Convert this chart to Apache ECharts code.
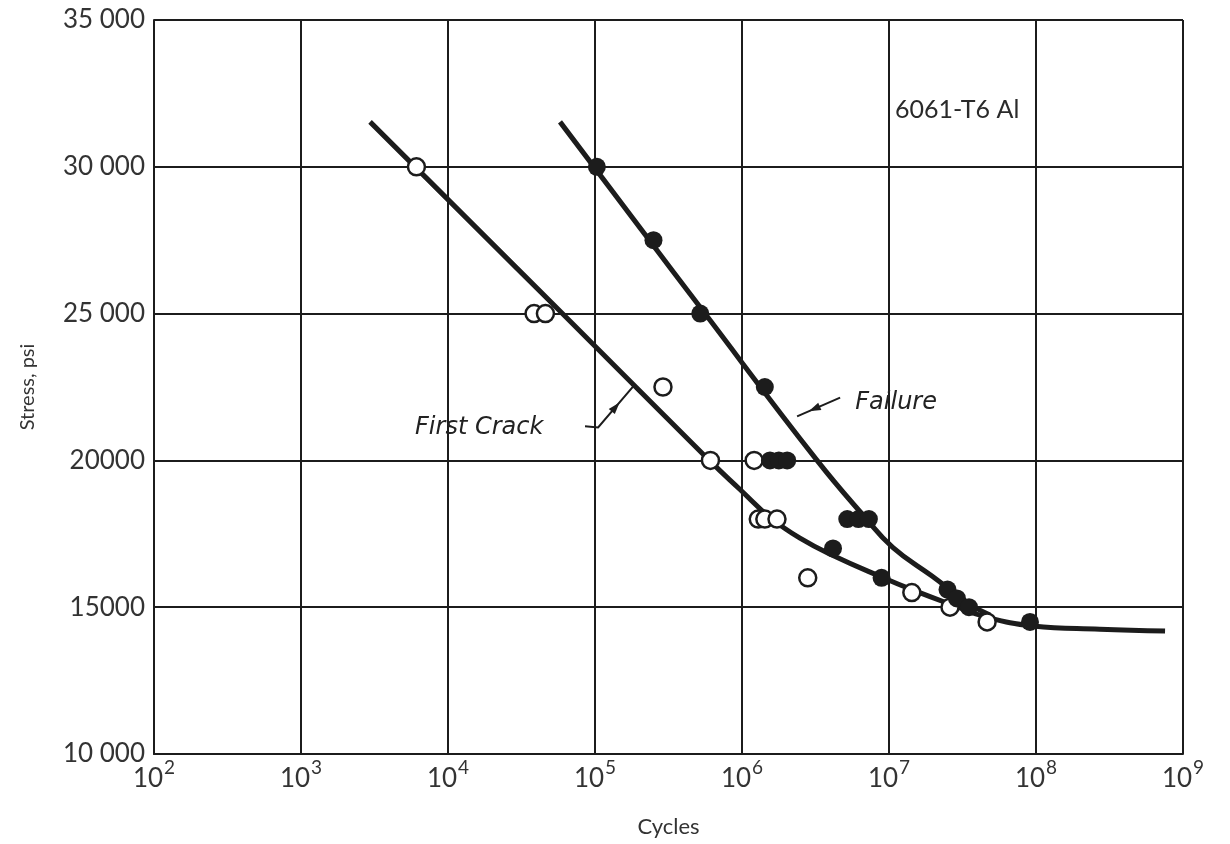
<!DOCTYPE html>
<html>
<head>
<meta charset="utf-8">
<script src="https://cdn.jsdelivr.net/npm/echarts@6/dist/echarts.min.js"></script>
<style>
  html, body { margin: 0; padding: 0; background: #fff; }
  #main { width: 1230px; height: 844px; }
</style>
</head>
<body>
<div id="main"></div>
<script>
// tick labels on the stress axis, as printed
const yTicks = [10000, 15000, 20000, 25000, 30000, 35000];
const yTickLabels = ["10 000", "15000", "20000", "25 000", "30 000", "35 000"];

// fitted curves [cycles, stress]
const firstCrackCurve = [
  [2.95e3, 31530], [6.0e4, 25000], [6.0e5, 20000], [9.7e5, 19010],
  [1.55e6, 18060], [2.48e6, 17350], [4.16e6, 16760], [8.96e6, 16020],
  [1.46e7, 15580], [2.72e7, 15070], [4.64e7, 14660], [9.55e7, 14360],
  [2.72e8, 14250], [7.55e8, 14190]
];
const failureCurve = [
  [5.78e4, 31530], [5.6e5, 25000], [3.24e6, 20000], [6.76e6, 18100],
  [1.06e7, 17040], [1.96e7, 16060], [3.56e7, 15100], [4.86e7, 14730]
];

// test points, open = first crack, filled = failure
const firstCrackPoints = [
  [6.1e3, 30000], [3.85e4, 25000], [4.6e4, 25000], [2.9e5, 22500],
  [6.1e5, 20000], [1.21e6, 20000], [1.29e6, 18000], [1.43e6, 18000],
  [1.73e6, 18000], [2.8e6, 16000], [1.43e7, 15500], [2.6e7, 15000],
  [4.65e7, 14500]
];
const failurePoints = [
  [1.03e5, 30000], [2.5e5, 27500], [5.2e5, 25000], [1.43e6, 22500],
  [1.55e6, 20000], [1.78e6, 20000], [2.03e6, 20000],
  [5.2e6, 18000], [6.2e6, 18000], [7.3e6, 18000],
  [4.16e6, 17000], [8.9e6, 16000], [2.5e7, 15600], [2.9e7, 15300],
  [3.5e7, 15000], [9.1e7, 14500]
];

const ink = "#1c1c1c";
const font = "Lato";
const noteFont = "DejaVu Sans";

const chart = echarts.init(document.getElementById("main"));

chart.setOption({
  animation: false,
  backgroundColor: "#fff",
  grid: { left: 154, right: 47, top: 20, bottom: 90 },
  xAxis: {
    type: "log",
    logBase: 10,
    min: 1e2,
    max: 1e9,
    name: "Cycles",
    nameLocation: "middle",
    nameGap: 62,
    nameTextStyle: { fontFamily: font, fontSize: 22, color: "#333" },
    axisLine: { lineStyle: { color: ink, width: 2 } },
    axisTick: { show: false },
    splitLine: { show: true, lineStyle: { color: ink, width: 2 } },
    minorSplitLine: { show: false },
    axisLabel: {
      margin: 4,
      formatter: function (v) {
        return "{b|10}{sup|" + Math.round(Math.log10(v)) + "}";
      },
      color: "#333",
      rich: {
        b: { fontFamily: font, fontSize: 26, color: "#333", lineHeight: 34, verticalAlign: "bottom" },
        sup: { fontFamily: font, fontSize: 19, color: "#333", lineHeight: 14, verticalAlign: "top", padding: [0, 0, 0, 1] }
      }
    }
  },
  yAxis: {
    type: "value",
    min: 10000,
    max: 35000,
    interval: 5000,
    name: "Stress, psi",
    nameLocation: "middle",
    nameGap: 116,
    nameTextStyle: { fontFamily: font, fontSize: 20, color: "#333" },
    axisLine: { show: true, lineStyle: { color: ink, width: 2 } },
    axisTick: { show: false },
    splitLine: { show: true, lineStyle: { color: ink, width: 2 } },
    axisLabel: {
      margin: 9,
      fontFamily: font,
      fontSize: 26,
      color: "#333",
      formatter: function (v) {
        const i = yTicks.indexOf(v);
        return i >= 0 ? yTickLabels[i] : "";
      }
    }
  },
  series: [
    {
      name: "First Crack curve",
      type: "line",
      data: firstCrackCurve,
      smooth: 0.45,
      showSymbol: false,
      lineStyle: { color: ink, width: 5 },
      z: 2
    },
    {
      name: "Failure curve",
      type: "line",
      data: failureCurve,
      smooth: 0.45,
      showSymbol: false,
      lineStyle: { color: ink, width: 5 },
      z: 2
    },
    {
      name: "First Crack",
      type: "scatter",
      data: firstCrackPoints,
      symbol: "circle",
      symbolSize: 17,
      itemStyle: { color: "#fff", borderColor: ink, borderWidth: 2.5, opacity: 1 },
      z: 3
    },
    {
      name: "Failure",
      type: "scatter",
      data: failurePoints,
      symbol: "circle",
      symbolSize: 18,
      itemStyle: { color: ink, opacity: 1 },
      z: 4
    }
  ]
});

// annotations placed in data space
function px(p) {
  return chart.convertToPixel({ gridIndex: 0 }, p);
}

function leader(points, arrowAt) {
  const pts = points.map(px);
  const a = pts[pts.length - 2];
  const b = pts[pts.length - 1];
  const mx = a[0] + (b[0] - a[0]) * arrowAt;
  const my = a[1] + (b[1] - a[1]) * arrowAt;
  const ang = Math.atan2(b[1] - a[1], b[0] - a[0]);
  const len = 12, wid = 4;
  const tip = [mx + Math.cos(ang) * len / 2, my + Math.sin(ang) * len / 2];
  const back = [mx - Math.cos(ang) * len / 2, my - Math.sin(ang) * len / 2];
  const nx = -Math.sin(ang) * wid, ny = Math.cos(ang) * wid;
  return [
    {
      type: "polyline",
      shape: { points: pts },
      style: { stroke: ink, lineWidth: 2, fill: null },
      z: 10
    },
    {
      type: "polygon",
      shape: { points: [tip, [back[0] + nx, back[1] + ny], [back[0] - nx, back[1] - ny]] },
      style: { fill: ink },
      z: 10
    }
  ];
}

function label(text, at, opts) {
  const p = px(at);
  return {
    type: "text",
    x: p[0],
    y: p[1],
    style: Object.assign({
      text: text,
      fill: "#222",
      fontFamily: noteFont,
      fontSize: 24,
      verticalAlign: "middle",
      align: "left"
    }, opts || {}),
    z: 10
  };
}

const graphics = []
  .concat(leader([[8.55e4, 21160], [1.05e5, 21120], [1.82e5, 22520]], 0.5))
  .concat(leader([[4.65e6, 22140], [2.37e6, 21500]], 0.6))
  .concat([
    label("6061-T6 Al", [1.1e7, 31940], { fontFamily: font, fontSize: 25, fill: "#2a2a2a" }),
    label("Failure", [5.9e6, 21970], { fontStyle: "italic" }),
    label("First Crack", [5.97e3, 21120], { fontStyle: "italic" })
  ]);

chart.setOption({ graphic: graphics });
</script>
</body>
</html>
